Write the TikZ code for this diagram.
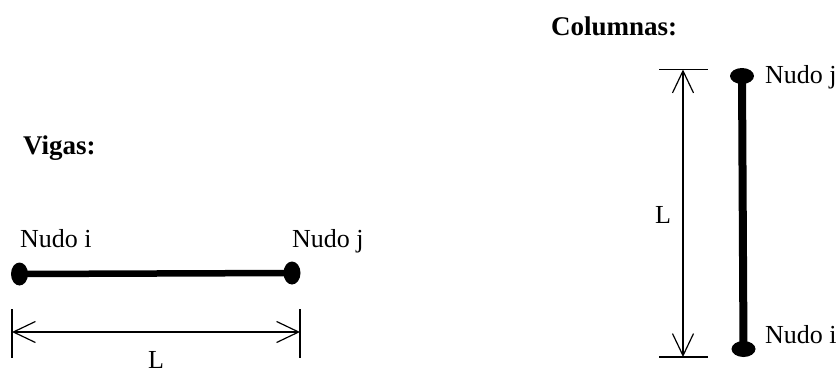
\documentclass[tikz,border=0pt]{standalone}
\usepackage{fontspec}
\setmainfont{Liberation Serif}
\usetikzlibrary{shapes.geometric,arrows.meta}
\begin{document}
\begin{tikzpicture}[x=1pt,y=-1pt,
  lbl/.style={font=\fontsize{26}{30}\selectfont, inner sep=0pt},
  ttl/.style={font=\fontsize{27}{31}\selectfont\bfseries, inner sep=0pt},
  bdot/.style={ellipse, fill=black, inner sep=0pt, minimum width=17pt, minimum height=23pt},
  cdot/.style={ellipse, fill=black, inner sep=0pt, minimum width=24pt, minimum height=16pt},
  dimline/.style={line width=1.2pt, {Straight Barb[length=22pt,width=21pt,line width=1.2pt]}-{Straight Barb[length=22pt,width=21pt,line width=1.2pt]}},
  tick/.style={line width=1.2pt}]
\useasboundingbox (0,0) rectangle (838,367);
% Vigas
\node[ttl, anchor=base west] (tv) at (23,154) {Vigas:};
\node[lbl, anchor=base west] (ni) at (20,247) {Nudo i};
\node[lbl, anchor=base west] (nj) at (292,247) {Nudo j};
\node[bdot] (bi) at (19.5,274) {};
\node[bdot] (bj) at (292,273) {};
\draw[line width=6.5pt] (bi.center) -- (bj.center);
\coordinate (h1a) at (12,309); \coordinate (h1b) at (12,358);
\coordinate (h2a) at (300,309); \coordinate (h2b) at (300,358);
\coordinate (hl) at (12,332); \coordinate (hr) at (300,332);
\draw[tick] (h1a) -- (h1b);
\draw[tick] (h2a) -- (h2b);
\draw[dimline] (hl) -- (hr);
\node[lbl, anchor=base] (lb) at (156,368) {L};
% Columnas
\node[ttl, anchor=base west] (tc) at (551,35) {Columnas:};
\node[cdot] (cj) at (742,76) {};
\node[cdot] (ci) at (743.5,349) {};
\draw[line width=8pt] (cj.center) -- (ci.center);
\node[lbl, anchor=base west] (cnj) at (765,83) {Nudo j};
\node[lbl, anchor=base west] (cni) at (765,343) {Nudo i};
\coordinate (v1a) at (659,69.5); \coordinate (v1b) at (708,69.5);
\coordinate (v2a) at (659,357); \coordinate (v2b) at (708,357);
\coordinate (vt) at (683,69.5); \coordinate (vb) at (683,357);
\draw[tick] (v1a) -- (v1b);
\draw[tick] (v2a) -- (v2b);
\draw[dimline] (vt) -- (vb);
\node[lbl] (lc) at (663,215) {L};
\end{tikzpicture}
\end{document}
